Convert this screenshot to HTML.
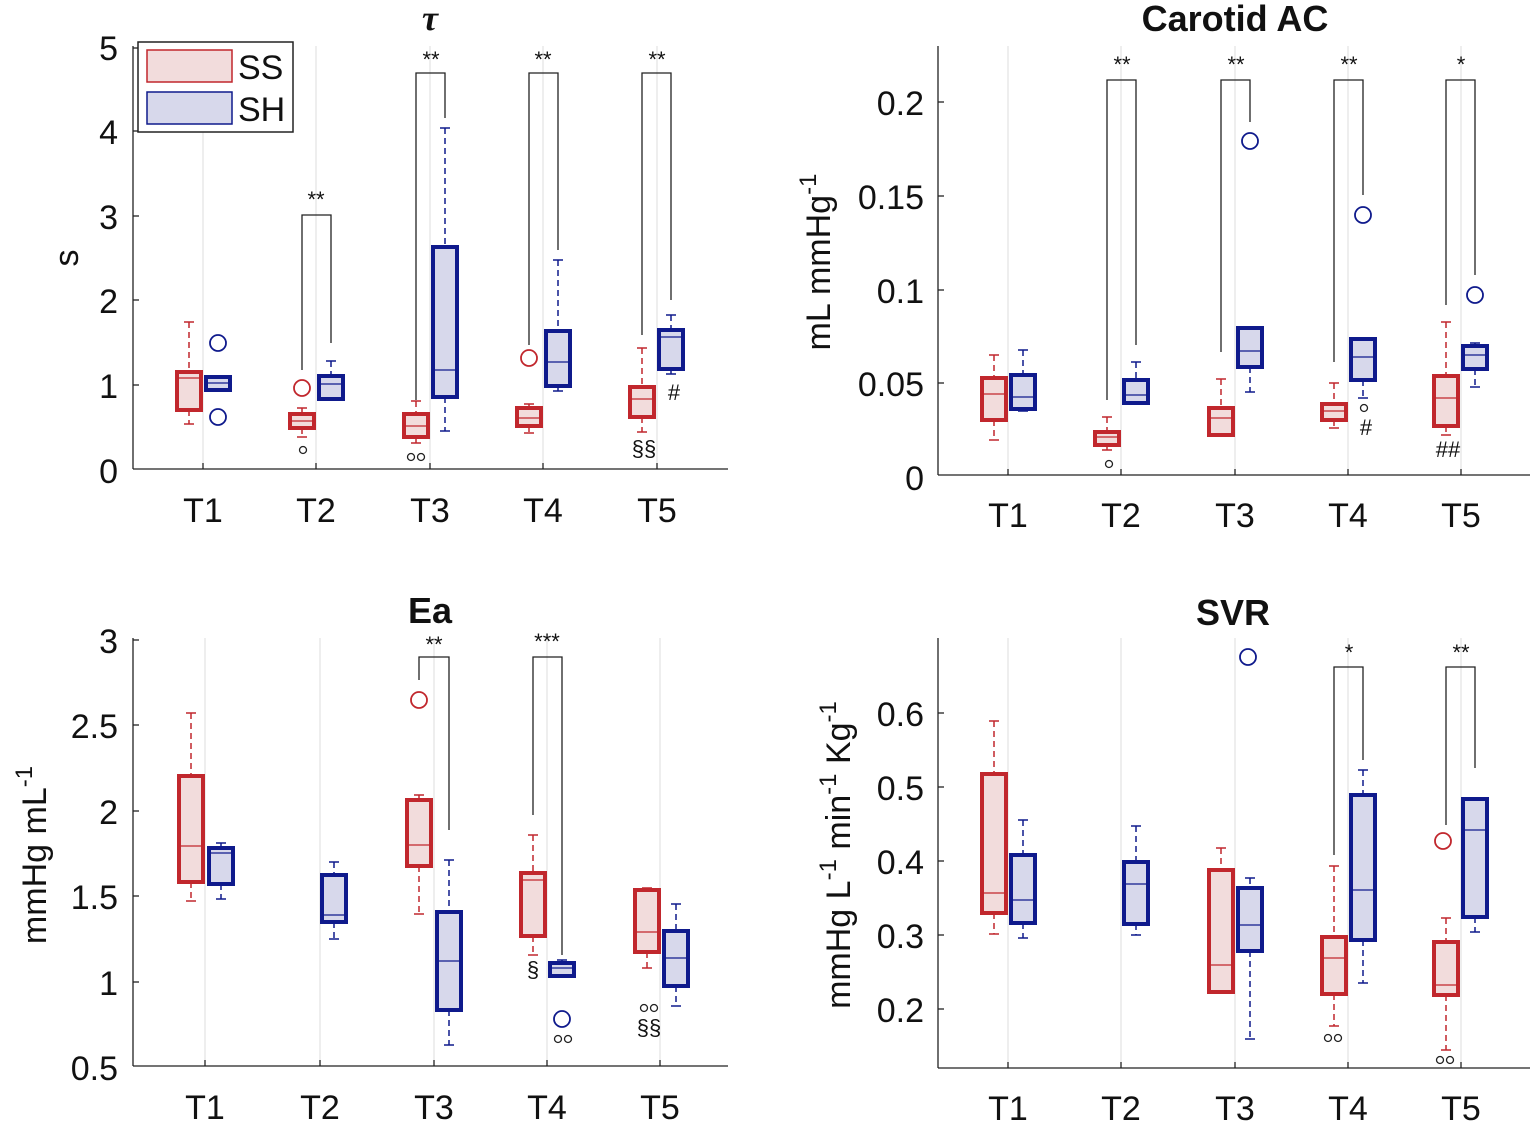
<!DOCTYPE html>
<html><head><meta charset="utf-8"><style>
body{margin:0;background:#fff}
svg{display:block}
text{font-family:"Liberation Sans",sans-serif;fill:#111}
.t{font-size:34px}
.ti{font-size:36px;font-weight:bold}
.st{font-size:22px}
</style></head><body>
<svg id="s" width="1534" height="1124" viewBox="0 0 1534 1124" xmlns="http://www.w3.org/2000/svg">
<g id="g"></g>
<text x="430" y="30" class="ti" text-anchor="middle" font-style="italic" style="font-family:'Liberation Serif',serif">τ</text>
<text x="1235" y="31" class="ti" text-anchor="middle">Carotid AC</text>
<text x="430" y="623" class="ti" text-anchor="middle">Ea</text>
<text x="1233" y="625" class="ti" text-anchor="middle">SVR</text>
<g class="t" text-anchor="end">
<text x="118" y="60">5</text><text x="118" y="144">4</text><text x="118" y="229">3</text><text x="118" y="313">2</text><text x="118" y="398">1</text><text x="118" y="483">0</text>
<text x="924" y="115">0.2</text><text x="924" y="209">0.15</text><text x="924" y="303">0.1</text><text x="924" y="396">0.05</text><text x="924" y="490">0</text>
<text x="118" y="653">3</text><text x="118" y="738">2.5</text><text x="118" y="824">2</text><text x="118" y="909">1.5</text><text x="118" y="995">1</text><text x="118" y="1080">0.5</text>
<text x="924" y="726">0.6</text><text x="924" y="800">0.5</text><text x="924" y="874">0.4</text><text x="924" y="948">0.3</text><text x="924" y="1022">0.2</text>
</g>
<g class="t" text-anchor="middle">
<text x="203" y="522">T1</text><text x="316" y="522">T2</text><text x="430" y="522">T3</text><text x="543" y="522">T4</text><text x="657" y="522">T5</text>
<text x="1008" y="527">T1</text><text x="1121" y="527">T2</text><text x="1235" y="527">T3</text><text x="1348" y="527">T4</text><text x="1461" y="527">T5</text>
<text x="205" y="1119">T1</text><text x="320" y="1119">T2</text><text x="434" y="1119">T3</text><text x="547" y="1119">T4</text><text x="660" y="1119">T5</text>
<text x="1008" y="1120">T1</text><text x="1121" y="1120">T2</text><text x="1235" y="1120">T3</text><text x="1348" y="1120">T4</text><text x="1461" y="1120">T5</text>
</g>
<text class="t" transform="translate(78,258) rotate(-90)" text-anchor="middle">s</text>
<text class="t" transform="translate(830,262) rotate(-90)" text-anchor="middle">mL mmHg<tspan dy="-14" font-size="24">-1</tspan></text>
<text class="t" transform="translate(46,855) rotate(-90)" text-anchor="middle">mmHg mL<tspan dy="-14" font-size="24">-1</tspan></text>
<text class="t" transform="translate(850,855) rotate(-90)" text-anchor="middle">mmHg L<tspan dy="-14" font-size="24">-1</tspan><tspan dy="14"> min</tspan><tspan dy="-14" font-size="24">-1</tspan><tspan dy="14"> Kg</tspan><tspan dy="-14" font-size="24">-1</tspan></text>
<g class="st" text-anchor="middle">
<text x="316" y="207">**</text><text x="431" y="67">**</text><text x="543" y="67">**</text><text x="657" y="67">**</text>
<text x="1122" y="72">**</text><text x="1236" y="72">**</text><text x="1349" y="72">**</text><text x="1461" y="72">*</text>
<text x="434" y="652">**</text><text x="547" y="649">***</text>
<text x="1349" y="660">*</text><text x="1461" y="660">**</text>
<text x="644" y="456">§§</text><text x="674" y="400">#</text>
<text x="1366" y="435">#</text><text x="1448" y="457">##</text>
<text x="533" y="977">§</text><text x="649" y="1035">§§</text>
</g>
<rect x="138" y="42" width="155" height="90" fill="#fff" stroke="#222" stroke-width="1.5"/>
<rect x="147" y="50" width="85" height="32" fill="#f2dcdc" stroke="#c1272d" stroke-width="1.5"/>
<rect x="147" y="92" width="85" height="32" fill="#d7d8eb" stroke="#0f1a8c" stroke-width="1.5"/>
<text x="238" y="79" class="t">SS</text><text x="238" y="121" class="t">SH</text>
</svg>
<script>
const g=document.getElementById('g');let h='';
const R='#c1272d',RF='#f2dcdc',B='#0f1a8c',BF='#d7d8eb';
function ax(l,r,t,b,cats,ticks){
 cats.forEach(c=>h+=`<line x1="${c}" x2="${c}" y1="${t}" y2="${b}" stroke="#ddd" stroke-width="1"/>`);
 h+=`<line x1="${l}" x2="${l}" y1="${t}" y2="${b}" stroke="#222" stroke-width="1.3"/><line x1="${l}" x2="${r}" y1="${b}" y2="${b}" stroke="#222" stroke-width="1.3"/>`;
 ticks.forEach(y=>h+=`<line x1="${l}" x2="${l+6}" y1="${y}" y2="${y}" stroke="#222" stroke-width="1.3"/>`);
 cats.forEach(c=>h+=`<line x1="${c}" x2="${c}" y1="${b}" y2="${b-6}" stroke="#222" stroke-width="1.3"/>`);
}
function bx(x,q3,q1,md,wh,wl,c,f){
 const w=12;
 if(wh!=null){h+=`<line x1="${x}" x2="${x}" y1="${wh}" y2="${q3}" stroke="${c}" stroke-width="1.5" stroke-dasharray="6,4"/><line x1="${x-5}" x2="${x+5}" y1="${wh}" y2="${wh}" stroke="${c}" stroke-width="1.5"/>`;}
 if(wl!=null){h+=`<line x1="${x}" x2="${x}" y1="${q1}" y2="${wl}" stroke="${c}" stroke-width="1.5" stroke-dasharray="6,4"/><line x1="${x-5}" x2="${x+5}" y1="${wl}" y2="${wl}" stroke="${c}" stroke-width="1.5"/>`;}
 h+=`<rect x="${x-w}" y="${q3}" width="${2*w}" height="${q1-q3}" fill="${f}" stroke="${c}" stroke-width="4"/>`;
 h+=`<line x1="${x-w}" x2="${x+w}" y1="${md}" y2="${md}" stroke="${c}" stroke-width="1.3"/>`;
}
function oc(x,y,c){h+=`<circle cx="${x}" cy="${y}" r="8" fill="none" stroke="${c}" stroke-width="1.8"/>`;}
function sm(x,y,n){for(let i=0;i<n;i++){h+=`<circle cx="${x-(n-1)*5+i*10}" cy="${y}" r="3.5" fill="none" stroke="#222" stroke-width="1.3"/>`;}}
function br(xl,xr,top,dl,dr){h+=`<polyline points="${xl},${dl} ${xl},${top} ${xr},${top} ${xr},${dr}" fill="none" stroke="#222" stroke-width="1.3"/>`;}
const S=(x,a,b,m,c,d)=>bx(x,a,b,m,c,d,R,RF),H=(x,a,b,m,c,d)=>bx(x,a,b,m,c,d,B,BF);
ax(133,728,46,469,[203,316,430,543,657],[48,131,216,300,385]);
S(189,372,410,378,322,424);H(218,377,390,383);oc(218,343,B);oc(218,417,B);
S(302,414,428,421,408,437);oc(302,388,R);H(331,376,399,384,361,null);
S(416,414,437,426,401,443);H(445,247,397,370,128,431);
S(529,408,426,418,404,433);oc(529,358,R);H(558,331,386,362,260,391);
S(642,387,417,399,348,432);H(671,330,369,337,315,374);
br(302,331,215,370,343);br(416,445,73,400,118);br(529,558,73,345,250);br(642,671,73,335,300);
sm(303,450,1);sm(416,457,2);
ax(938,1530,46,475,[1008,1121,1235,1348,1461],[102,196,290,383]);
S(994,378,420,394,355,440);H(1023,375,409,397,350,411);
S(1107,432,445,437,417,450);H(1136,380,403,395,362,null);
S(1221,408,435,418,379,435);H(1250,328,367,351,null,392);oc(1250,141,B);
S(1334,404,420,411,383,428);H(1363,339,380,357,null,398);oc(1363,215,B);
S(1446,376,426,398,322,435);H(1475,346,369,355,343,387);oc(1475,295,B);
br(1107,1136,80,400,345);br(1221,1250,80,352,122);br(1334,1363,80,362,195);br(1446,1475,80,305,275);
sm(1109,464,1);sm(1364,408,1);
ax(133,728,638,1066,[205,320,434,547,660],[640,725,811,896,982]);
S(191,776,882,846,713,901);H(221,848,884,853,843,899);
H(334,875,922,915,862,939);
S(419,800,866,845,795,914);oc(419,700,R);H(449,912,1010,961,860,1045);
S(533,873,936,880,835,955);H(562,963,976,968,960,null);oc(562,1019,B);
S(647,890,952,932,888,968);H(676,931,986,958,904,1006);
br(419,449,657,680,830);br(533,562,657,815,955);
sm(563,1039,2);sm(649,1008,2);
ax(938,1530,638,1068,[1008,1121,1235,1348,1461],[713,787,861,935,1009]);
S(994,774,913,893,721,934);H(1023,855,923,900,820,938);
H(1136,862,924,884,826,935);
S(1221,870,992,965,848,993);H(1250,888,951,925,878,1039);oc(1248,657,B);
S(1334,937,994,958,866,1026);H(1363,795,940,890,770,983);
S(1446,942,995,985,918,1050);oc(1443,841,R);H(1475,799,917,830,null,932);
br(1334,1363,667,855,760);br(1446,1475,667,825,768);
sm(1333,1038,2);sm(1445,1060,2);
g.innerHTML=h;
</script>
</body></html>
